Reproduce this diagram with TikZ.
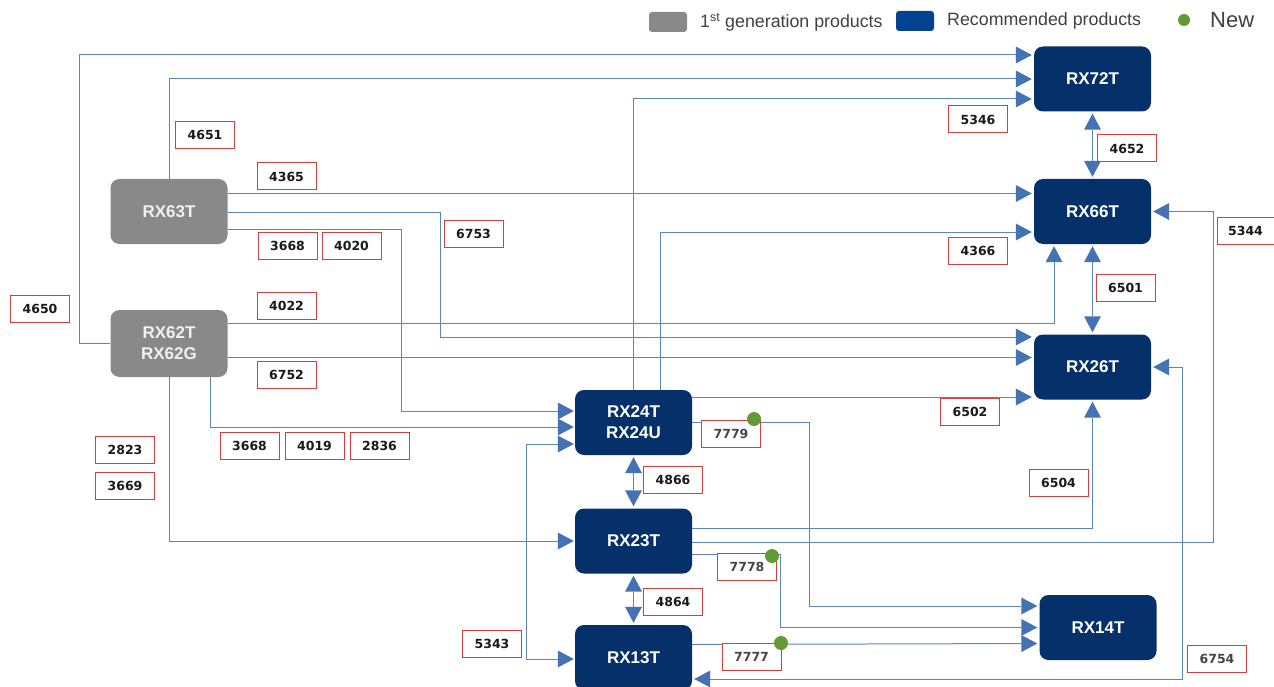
\documentclass[tikz,border=0pt]{standalone}
\usepackage{fontspec}
\setmainfont{Liberation Sans}
\newfontfamily\lblfont{DejaVu Sans}
\usetikzlibrary{arrows.meta,calc}
\definecolor{navy}{HTML}{06306A}
\definecolor{legblue}{HTML}{03428E}
\definecolor{oldgray}{HTML}{898989}
\definecolor{lineblue}{HTML}{5A85C3}
\definecolor{tipblue}{HTML}{4472B2}
\definecolor{lblred}{HTML}{E0393B}
\definecolor{lbltext}{HTML}{1A1A1A}
\definecolor{lbltextb}{HTML}{454545}
\definecolor{newgreen}{HTML}{629A33}
\definecolor{legtext}{HTML}{404040}
\begin{document}
\begin{tikzpicture}[x=1pt,y=-1pt,
  prod/.style={rounded corners=9pt, minimum width=117pt, minimum height=65pt, inner sep=0pt,
    font=\fontsize{17}{21}\selectfont\bfseries, text=white, align=center},
  newprod/.style={prod, fill=navy},
  oldprod/.style={prod, fill=oldgray, text=white!94!black},
  tip/.tip={Triangle[length=16pt,width=17pt,color=tipblue,fill=tipblue,line width=0pt]},
  conn/.style={draw=lineblue, line width=1pt, -tip},
  both/.style={draw=lineblue, line width=1pt, tip-tip},
  lbl/.style={draw=lblred, fill=white, line width=1pt, minimum width=59pt, minimum height=27pt,
    inner sep=0pt, font=\lblfont\fontsize{12.5}{14}\selectfont\bfseries, text=lbltext},
  lblb/.style={lbl, text=lbltextb},
  newdot/.style={circle, fill=newgreen, minimum size=14pt, inner sep=0pt},
  legtxt/.style={anchor=west, font=\fontsize{17.8}{20}\selectfont, text=legtext, inner sep=0pt}
]
\useasboundingbox (0,0) rectangle (1274,687);

% legend
\node[fill=oldgray, rounded corners=3pt, minimum width=38pt, minimum height=20pt, inner sep=0pt] (leg1) at (668,22) {};
\node[legtxt] (leg1t) at (700,22) {1\textsuperscript{st} generation products};
\node[fill=legblue, rounded corners=3pt, minimum width=38pt, minimum height=20pt, inner sep=0pt] (leg2) at (915,21) {};
\node[legtxt] (leg2t) at (947,21) {Recommended products};
\node[circle, fill=newgreen, minimum size=12pt, inner sep=0pt] (leg3) at (1184,20) {};
\node[legtxt, font=\fontsize{22}{24}\selectfont] (leg3t) at (1210,20) {New};

% products
\node[oldprod] (rx63) at (169,211.5) {RX63T};
\node[oldprod, minimum height=67pt] (rx62) at (169,343.5) {RX62T\\RX62G};
\node[newprod] (rx72) at (1092.5,79) {RX72T};
\node[newprod] (rx66) at (1092.5,211.5) {RX66T};
\node[newprod] (rx26) at (1092.5,367) {RX26T};
\node[newprod] (rx24) at (633.5,422.5) {RX24T\\RX24U};
\node[newprod] (rx23) at (633.5,541) {RX23T};
\node[newprod] (rx13) at (633.5,657.5) {RX13T};
\node[newprod] (rx14) at (1098,627.5) {RX14T};

% connectors
\draw[conn] (rx62.west) -| (79,55) -- ($(rx72.west)+(-2,-24)$);
\draw[conn] (rx63.north) |- ($(rx72.west)+(-2,0)$);
\draw[conn] (rx24.north) |- ($(rx72.west)+(-2,20)$);
\draw[both] ($(rx72.south)+(0,2)$) -- ($(rx66.north)+(0,-2)$);
\draw[conn] ($(rx63.east)+(0,-18)$) -- ($(rx66.west)+(-2,-18)$);
\draw[conn] ($(rx63.east)+(0,1.5)$) -| (440,337) -- ($(rx26.west)+(-2,-30)$);
\draw[conn] ($(rx63.east)+(0,18)$) -| (401,411) -- ($(rx24.west)+(-1,-11.5)$);
\draw[conn] ($(rx24.north)+(27,0)$) |- ($(rx66.west)+(-2,20.5)$);
\draw[conn] ($(rx62.east)+(0,-20)$) -| ($(rx66.south)+(-38.5,2)$);
\draw[conn] ($(rx62.east)+(0,14)$) -- ($(rx26.west)+(-2,-9.5)$);
\draw[conn] ($(rx62.south)+(41,0)$) |- ($(rx24.west)+(-1,4.5)$);
\draw[conn] (rx62.south) |- ($(rx23.west)+(-1,0)$);
\draw[both] ($(rx66.south)+(0,2)$) -- ($(rx26.north)+(0,-2)$);
\draw[conn] ($(rx23.east)+(0,1)$) -| (1213,211.5) -- ($(rx66.east)+(2,0)$);
\draw[conn] ($(rx24.east)+(0,-25.5)$) -- ($(rx26.west)+(-2,30)$);
\draw[conn] ($(rx23.east)+(0,-12.5)$) -| ($(rx26.south)+(0,2)$);
\draw[both] ($(rx26.east)+(2,0)$) -| (1182,679) -- ($(rx13.east)+(2,21.5)$);
\draw[conn] (rx24.east) -| (809,606) -- ($(rx14.west)+(-2,-21.5)$);
\draw[conn] ($(rx23.east)+(0,13)$) -| (780,627.5) -- ($(rx14.west)+(-2,0)$);
\draw[conn] ($(rx13.east)+(0,-13)$) -- ($(rx14.west)+(-2,16)$);
\draw[both] ($(rx24.west)+(-1,21.5)$) -| (526,659) -- ($(rx13.west)+(-1,1.5)$);
\draw[both] ($(rx24.south)+(0,2)$) -- ($(rx23.north)+(0,-2)$);
\draw[both] ($(rx23.south)+(0,2)$) -- ($(rx13.north)+(0,-2)$);

% labels
\node[lbl] (l4650) at (40,309) {4650};
\node[lbl] (l4651) at (205,135) {4651};
\node[lbl] (l4365) at (286.5,176.5) {4365};
\node[lbl] (l3668a) at (287.5,245.5) {3668};
\node[lbl] (l4020) at (351.5,245.5) {4020};
\node[lbl] (l6753) at (473.5,234) {6753};
\node[lbl] (l5346) at (978,119.5) {5346};
\node[lbl] (l4652) at (1127,148.5) {4652};
\node[lbl] (l4366) at (978,250.5) {4366};
\node[lbl, minimum width=57pt] (l5344) at (1245.5,231) {5344};
\node[lbl] (l4022) at (286.5,306) {4022};
\node[lbl] (l6501) at (1125.5,288) {6501};
\node[lbl] (l6752) at (286.5,375) {6752};
\node[lbl] (l6502) at (970,411.5) {6502};
\node[lbl] (l3668b) at (249.5,446) {3668};
\node[lbl] (l4019) at (314.5,446) {4019};
\node[lbl] (l2836) at (379.5,446) {2836};
\node[lbl] (l2823) at (125,450) {2823};
\node[lbl] (l3669) at (125,485.5) {3669};
\node[lblb] (l7779) at (731,433.5) {7779};
\node[lbl] (l4866) at (673,480) {4866};
\node[lbl] (l6504) at (1058.5,483) {6504};
\node[lblb] (l7778) at (747,567) {7778};
\node[lbl] (l4864) at (673,602) {4864};
\node[lbl] (l5343) at (492,643.5) {5343};
\node[lblb] (l7777) at (751.5,657) {7777};
\node[lblb] (l6754) at (1217,659) {6754};

% new dots
\node[newdot] (d7779) at (754,419) {};
\node[newdot] (d7778) at (772,556) {};
\node[newdot] (d7777) at (781,643) {};
\end{tikzpicture}
\end{document}
